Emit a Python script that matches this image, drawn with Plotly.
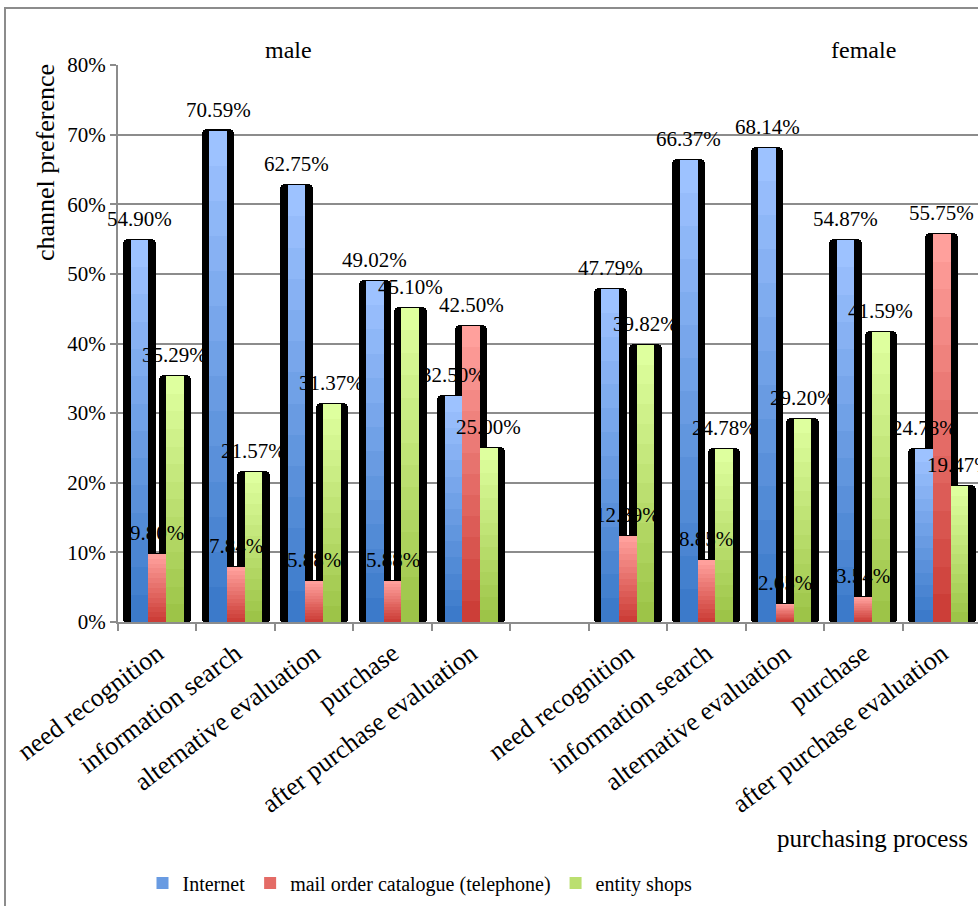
import plotly.graph_objects as go

# ---- data ----
processes = ["need recognition", "information search", "alternative evaluation",
             "purchase", "after purchase evaluation"]
groups = ["male", "female"]
series_names = ["Internet", "mail order catalogue (telephone)", "entity shops"]

male_internet = [54.90, 70.59, 62.75, 49.02, 32.50]
male_mail = [9.80, 7.84, 5.88, 5.88, 42.50]
male_shops = [35.29, 21.57, 31.37, 45.10, 25.00]

female_internet = [47.79, 66.37, 68.14, 54.87, 24.78]
female_mail = [12.39, 8.85, 2.65, 3.54, 55.75]
female_shops = [39.82, 24.78, 29.20, 41.59, 19.47]

y_ticks = [0, 10, 20, 30, 40, 50, 60, 70, 80]

# ---- layout helpers ----
n = len(processes)
positions = list(range(n)) + [n + 1 + i for i in range(n)]  # gap slot between groups
labels = processes + processes
series_values = [male_internet + female_internet,
                 male_mail + female_mail,
                 male_shops + female_shops]

top_colors = [(157, 194, 255), (255, 160, 156), (222, 255, 158)]
bottom_colors = [(60, 122, 202), (204, 62, 56), (157, 196, 72)]
offsets = [-0.225, 0.0, 0.225]
bar_w = 0.225
edge_w = bar_w + 0.19
FONT = "Liberation Serif, Times New Roman, DejaVu Serif, serif"

fig = go.Figure()

# black 3D sides behind all bars
for s, vals in enumerate(series_values):
    fig.add_trace(go.Bar(
        x=positions, y=[v + 0.45 for v in vals], base=-0.3,
        width=edge_w, offset=offsets[s] - edge_w / 2,
        marker=dict(color="black", line=dict(width=0), cornerradius=5),
        showlegend=False, hoverinfo="skip"))

# gradient fill made of stacked bands (light top -> dark bottom)
bands = 14
for s, vals in enumerate(series_values):
    for k in range(bands):
        frac = 1 - k / bands
        t = k / (bands - 1)
        c = tuple(int(round(top_colors[s][i] + (bottom_colors[s][i] - top_colors[s][i]) * t)) for i in range(3))
        fig.add_trace(go.Bar(
            x=positions, y=[v * frac for v in vals],
            width=bar_w, offset=offsets[s] - bar_w / 2,
            marker=dict(color="rgb(%d,%d,%d)" % c, line=dict(width=0)),
            name=series_names[s], legendgroup=series_names[s],
            showlegend=(k == bands // 2), hoverinfo="skip"))

# value labels
for s, vals in enumerate(series_values):
    for p, v in zip(positions, vals):
        fig.add_annotation(x=p + offsets[s], y=v, yshift=21, text="%.2f%%" % v,
                           xanchor="center", yanchor="middle",
                           showarrow=False, font=dict(family=FONT, size=21, color="black"))

def px_note(x, y, text, size, **kw):
    fig.add_annotation(xref="paper", yref="paper", x=(x - 118) / 860, y=(622 - y) / 557,
                       text=text, showarrow=False, yanchor="middle",
                       font=dict(family=FONT, size=size, color="black"), **kw)

# group labels and axis titles
px_note(288, 50, groups[0], 24, xanchor="center")
px_note(863, 50, groups[1], 24, xanchor="center")
px_note(45, 163, "channel preference", 26, xanchor="center", textangle=-90)
px_note(775, 838, "purchasing process", 25, xanchor="left")

# outer frame
fig.add_shape(type="rect", xref="paper", yref="paper",
              x0=(5 - 118) / 860, x1=1.2, y0=-0.7, y1=(622 - 8) / 557,
              line=dict(color="#8c8c8c", width=2), layer="below")

fig.update_layout(
    width=978, height=906,
    margin=dict(l=118, r=0, t=65, b=284),
    paper_bgcolor="white", plot_bgcolor="white",
    barmode="overlay", bargap=0,
    font=dict(family=FONT, size=21, color="black"),
    legend=dict(orientation="h", xref="paper", yref="paper",
                x=(420 - 118) / 860, xanchor="center", y=(622 - 883) / 557, yanchor="middle",
                font=dict(family=FONT, size=20, color="black"), itemwidth=30,
                bgcolor="rgba(0,0,0,0)", traceorder="normal"),
    xaxis=dict(range=[-0.5, -0.5 + 860 / 78.45], tickmode="array", tickvals=positions,
               ticktext=labels, tickangle=-37, ticks="", showgrid=False,
               showline=True, linecolor="#8c8c8c", linewidth=2, ticklabelstandoff=4,
               tickfont=dict(family=FONT, size=26, color="black"),
               minor=dict(tickmode="linear", tick0=0.5, dtick=1, ticks="outside",
                          ticklen=7, tickcolor="#8c8c8c", tickwidth=2, showgrid=False),
               zeroline=False),
    yaxis=dict(range=[0, 80], tickmode="array", tickvals=y_ticks,
               ticktext=["%d%%" % t for t in y_ticks], ticks="outside", ticklen=6,
               tickcolor="#8c8c8c", tickwidth=2, showgrid=True, gridcolor="#8c8c8c",
               gridwidth=2, showline=True, linecolor="#8c8c8c", linewidth=2,
               tickfont=dict(family=FONT, size=21, color="black"), zeroline=False),
)

fig.write_html("out.html")
